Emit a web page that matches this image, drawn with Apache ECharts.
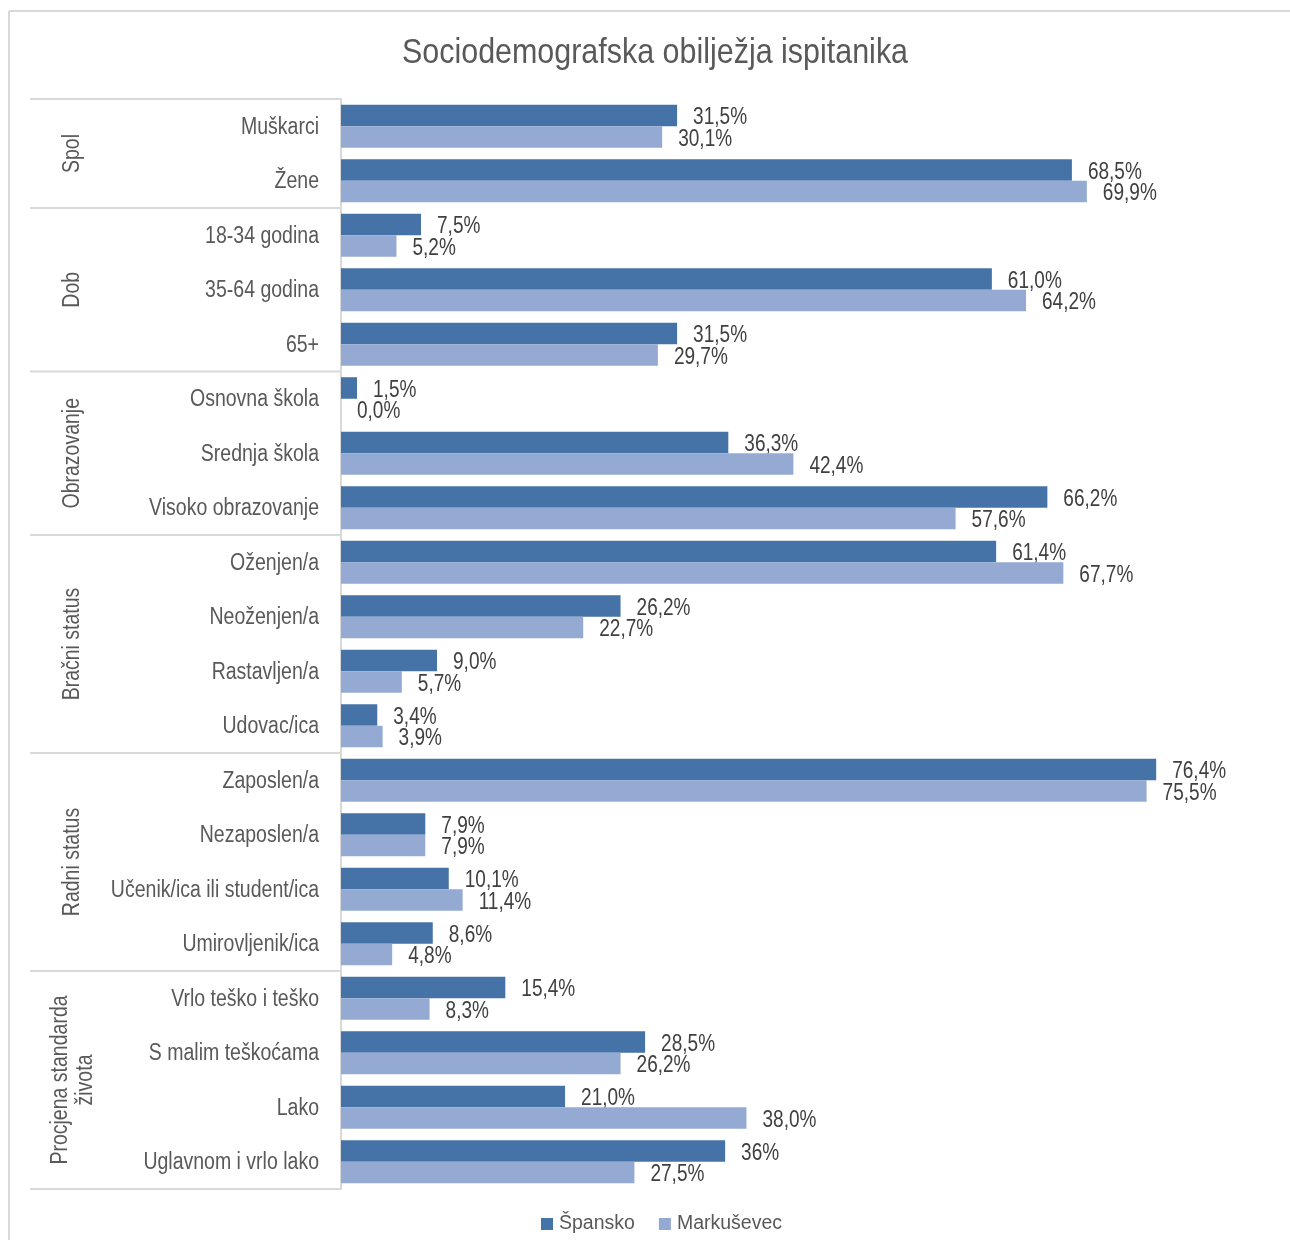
<!DOCTYPE html>
<html>
<head>
<meta charset="utf-8">
<script src="https://cdn.jsdelivr.net/npm/echarts@6/dist/echarts.min.js"></script>
<style>
html,body{margin:0;padding:0;background:#fff;}
#chart{width:1290px;height:1240px;}
</style>
</head>
<body>
<div id="chart"></div>
<script>
const categories = ['Muškarci','Žene','18-34 godina','35-64 godina','65+','Osnovna škola','Srednja škola','Visoko obrazovanje','Oženjen/a','Neoženjen/a','Rastavljen/a','Udovac/ica','Zaposlen/a','Nezaposlen/a','Učenik/ica ili student/ica','Umirovljenik/ica','Vrlo teško i teško','S malim teškoćama','Lako','Uglavnom i vrlo lako'];
const spansko = [31.5,68.5,7.5,61.0,31.5,1.5,36.3,66.2,61.4,26.2,9.0,3.4,76.4,7.9,10.1,8.6,15.4,28.5,21.0,36];
const markusevec = [30.1,69.9,5.2,64.2,29.7,0.0,42.4,57.6,67.7,22.7,5.7,3.9,75.5,7.9,11.4,4.8,8.3,26.2,38.0,27.5];
const groupNames = ['Spol','Dob','Obrazovanje','Bračni status','Radni status','Procjena standarda\nživota'];
const groupSizes = [2,3,3,4,4,4];
const spanskoWholeLabels = ['Uglavnom i vrlo lako'];
const seriesNames = ['Špansko','Markuševec'];
const titleText = 'Sociodemografska obilježja ispitanika';

const FONT = "'Liberation Sans',Arial,sans-serif";
const NARROW = 0.83;           // emulate the narrow typeface of the original
const fmt = (v, whole) => whole ? Math.round(v) + '%' : v.toFixed(1).replace('.', ',') + '%';
const CAT_GAP = 0.21;

const chart = echarts.init(document.getElementById('chart'));
chart.setOption({
  animation: false,
  textStyle: {fontFamily: FONT},
  legend: {
    top: 1209, left: 536,
    icon: 'rect', itemWidth: 12, itemHeight: 12, itemGap: 24,
    textStyle: {fontFamily: FONT, fontSize: 19.5, color: '#595959', padding: [0,0,0,1]},
    data: seriesNames
  },
  grid: {left: 341, top: 99, bottom: 51, width: 85 * 10.67, containLabel: false},
  xAxis: {type: 'value', min: 0, max: 85, show: false},
  yAxis: {
    type: 'category', inverse: true, data: categories,
    axisLine: {lineStyle: {color: '#D9D9D9', width: 2}},
    axisTick: {show: false},
    axisLabel: {show: false}
  },
  series: [
    {name: seriesNames[0], type: 'bar', data: spansko, barGap: '0%', barCategoryGap: (CAT_GAP * 100) + '%', itemStyle: {color: '#4673A7'}},
    {name: seriesNames[1], type: 'bar', data: markusevec, barGap: '0%', barCategoryGap: (CAT_GAP * 100) + '%', itemStyle: {color: '#95AAD3'}}
  ]
});

// positions derived from the chart's own axes
const py = c => chart.convertToPixel({yAxisIndex: 0}, c);
const px = v => chart.convertToPixel({xAxisIndex: 0}, v);
const band = py(categories[1]) - py(categories[0]);
const barW = band * (1 - CAT_GAP) / 2;
const gridLeft = px(0);
const graphics = [];
const lineStyle = {stroke: '#D9D9D9', lineWidth: 2};
const txt = (x, y, text, size, color, align, extra) => Object.assign({
  type: 'text', x: x, y: y, scaleX: NARROW, silent: true,
  style: {text: text, fontFamily: FONT, fontSize: size, fill: color, align: align, verticalAlign: 'middle'}
}, extra || {});

// title
graphics.push(txt(655, 53, titleText, 35, '#595959', 'center', {scaleX: 0.87}));

// outer frame
graphics.push({type: 'line', shape: {x1: 9, y1: 11, x2: 1290, y2: 11}, style: lineStyle, silent: true});
graphics.push({type: 'line', shape: {x1: 9, y1: 11, x2: 9, y2: 1240}, style: lineStyle, silent: true});

// category labels and data labels
categories.forEach((c, i) => {
  const cy = py(c);
  graphics.push(txt(gridLeft - 22, cy + 1, c, 23.5, '#595959', 'right'));
  graphics.push(txt(px(spansko[i]) + 16, cy - barW / 2 + 2.5, fmt(spansko[i], spanskoWholeLabels.includes(c)), 23.5, '#404040', 'left', {scaleX: 0.81}));
  graphics.push(txt(px(markusevec[i]) + 16, cy + barW / 2 + 2.5, fmt(markusevec[i], false), 23.5, '#404040', 'left', {scaleX: 0.81}));
});

// group brackets
let start = 0;
const topY = py(categories[0]) - band / 2;
graphics.push({type: 'line', shape: {x1: 30, y1: topY, x2: gridLeft, y2: topY}, style: lineStyle, silent: true});
groupNames.forEach((g, i) => {
  const end = start + groupSizes[i] - 1;
  const y0 = py(categories[start]) - band / 2;
  const y1 = py(categories[end]) + band / 2;
  graphics.push({type: 'line', shape: {x1: 30, y1: y1, x2: gridLeft, y2: y1}, style: lineStyle, silent: true});
  const t = txt(73, (y0 + y1) / 2, g, 23.5, '#595959', 'center', {rotation: Math.PI / 2});
  t.style.lineHeight = 25;
  graphics.push(t);
  start = end + 1;
});
chart.setOption({graphic: graphics});
</script>
</body>
</html>
